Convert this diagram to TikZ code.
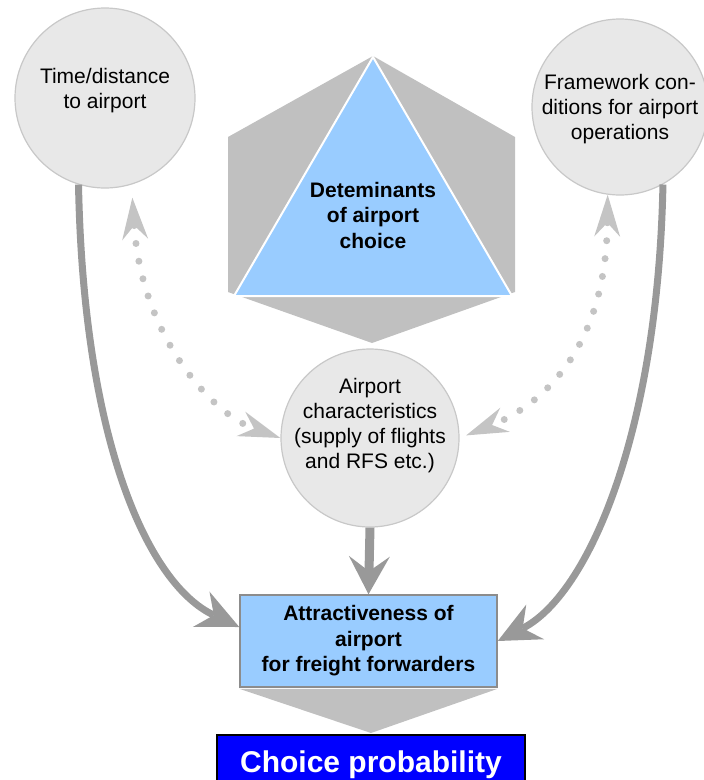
\documentclass[tikz,border=0pt]{standalone}
\usepackage{fontspec}
\setmainfont{Liberation Sans}
\usetikzlibrary{arrows.meta}
\definecolor{bubblegray}{HTML}{E8E8E8}
\definecolor{rimgray}{HTML}{C8C8C8}
\definecolor{hexgray}{HTML}{C0C0C0}
\definecolor{skyblue}{HTML}{99CCFF}
\definecolor{boxgray}{HTML}{8C8C8C}
\definecolor{arrowgray}{HTML}{999999}
\definecolor{dotgray}{HTML}{C4C4C4}
\definecolor{pureblue}{HTML}{0000FF}
\begin{document}
\begin{tikzpicture}[x = 1pt, y = -1pt,
	bubble/.style = {circle, fill = bubblegray, draw = rimgray, line width = 1.2pt, minimum size = 178pt, inner sep = 0pt},
	txt/.style = {align = center, font = \fontsize{21}{25}\selectfont},
	boldtxt/.style = {align = center, font = \fontsize{21}{25.5}\selectfont\bfseries},
	bigarrow/.style = {draw = arrowgray, line width = 7pt, -{Stealth[length = 42pt, width = 39pt, inset = 14pt, line width = 0pt]}},
	dotarrow/.style = {draw = dotgray, line width = 7pt, line cap = round, dash pattern = on 0pt off 18pt,
		{Stealth[length = 42pt, width = 26pt, inset = 14pt, line width = 0pt]}-{Stealth[length = 42pt, width = 26pt, inset = 14pt, line width = 0pt]}}]
	\useasboundingbox (0,0) rectangle (704,780);
	\fill[hexgray] (373,56) -- (515,137) -- (515,292) -- (372,343) -- (228,292) -- (228,137) -- cycle;
	\filldraw[fill = skyblue, draw = white, line width = 2pt] (373,57) -- (512,296) -- (234,296) -- cycle;
	\node[boldtxt] (det) at (373,215) {Deteminants\\of airport\\choice};
	\node[bubble, minimum size = 180pt] (time) at (105,98) {};
	\node[txt] (timetxt) at (105,91) {Time/distance\\to airport};
	\node[bubble, minimum size = 176pt] (frame) at (620,107) {};
	\node[txt] (frametxt) at (620,109) {Framework con-\\ditions for airport\\operations};
	\node[bubble] (air) at (370,438) {};
	\node[txt] (airtxt) at (370,426) {Airport\\characteristics\\(supply of flights\\and RFS etc.)};
	\node[draw = black, fill = pureblue, line width = 2pt, minimum width = 308pt, minimum height = 60pt, text = white,
		font = \fontsize{30}{36}\selectfont\bfseries] (choice) at (371,765) {Choice probability};
	\node[draw = boxgray, fill = skyblue, line width = 1.5pt, minimum width = 257pt, minimum height = 92pt, boldtxt] (attr) at (368.5,641)
		{Attractiveness of\\airport\\for freight forwarders};
	\fill[hexgray] ([yshift = -1pt]attr.south west) -- ([yshift = -1pt]attr.south east) -- ([yshift = 1pt]choice.north) -- cycle;
	\draw[bigarrow] (time.253) .. controls +(5,260) and +(-90,-42) .. ([yshift = 14pt]attr.west);
	\draw[bigarrow] (frame.299) .. controls +(-5,250) and +(90,-46) .. (attr.east);
	\draw[bigarrow, line width = 9pt, -{Stealth[length = 38pt, width = 41pt, inset = 15pt, line width = 0pt]}] (air.south) -- (attr.north);
	\draw[dotarrow, shorten <= 13pt] (time.287) .. controls +(10,150) and +(-70,-25) .. (air.west);
	\draw[dotarrow, shorten >= 7pt] (frame.262) .. controls +(-2,166) and +(70,-28) .. (air.east);
\end{tikzpicture}
\end{document}
